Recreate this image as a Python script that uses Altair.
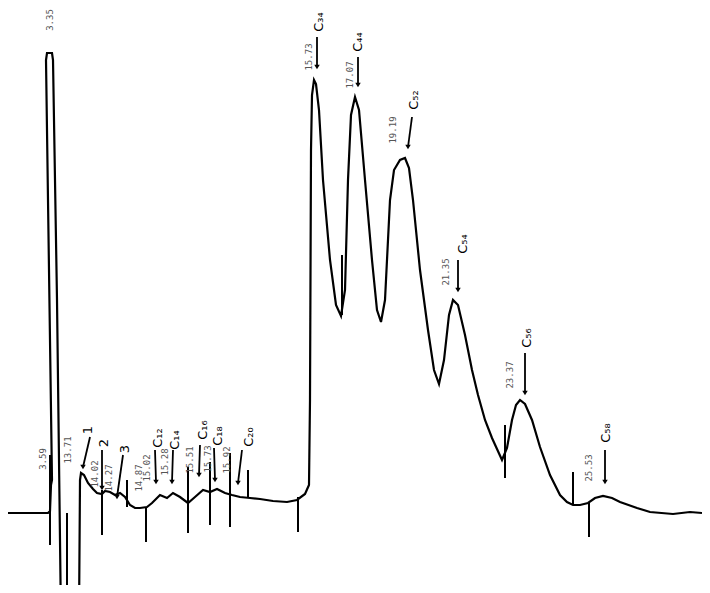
import altair as alt
import pandas as pd

# Chromatogram trace: retention time (min) and detector signal (arbitrary units)
trace_t = [0, 1.6, 1.68, 1.72, 1.76, 1.52, 1.56, 1.76, 1.8, 1.96, 2.12, 2.56, 2.84, 2.88, 2.92,
           3.04, 3.2, 3.4, 3.56, 3.76, 3.88, 4.08, 4.28, 4.48, 4.68, 4.88, 5.08, 5.28, 5.56, 5.76,
           6.08, 6.36, 6.6, 6.88, 7.2, 7.48, 7.8, 8.08, 8.36, 8.68, 8.96, 9.28, 9.68, 10.08, 10.6,
           11.16, 11.56, 11.88, 12.04, 12.08, 12.12, 12.16, 12.24, 12.32, 12.44, 12.6, 12.88, 13.12,
           13.32, 13.48, 13.6, 13.72, 13.88, 14.04, 14.28, 14.56, 14.76, 14.92, 15.08, 15.28, 15.44,
           15.68, 15.88, 16.04, 16.2, 16.48, 16.8, 17.04, 17.24, 17.44, 17.64, 17.8, 18.0, 18.28,
           18.56, 18.8, 19.08, 19.36, 19.76, 19.96, 20.16, 20.32, 20.48, 20.68, 20.96, 21.28, 21.68,
           22.08, 22.36, 22.6, 22.88, 23.2, 23.48, 23.8, 24.16, 24.48, 25.16, 25.68, 26.6, 27.28, 27.76]
trace_s = [0, 0, 0.4, 5.6, 6.6, 90.6, 92, 92, 90.6, 42.6, -21.4, -21.4, -21.4, 6.6, 8,
           7.6, 6, 4.8, 4, 3.8, 4.4, 4.2, 3.6, 4, 3.2, 1.6, 1, 1, 1.2, 2,
           3.6, 3, 4, 3.2, 2, 3.2, 4.6, 4.2, 4.8, 4, 3.6, 3.2, 3, 2.8, 2.4,
           2.2, 2.6, 3.8, 5.6, 22.6, 72.6, 83.6, 86.6, 85.8, 80.6, 66.6, 50.6, 41.6,
           39.4, 44.6, 66.6, 79.6, 83.2, 80.6, 66.6, 50.6, 40.6, 38.2, 42.6, 62.6, 68.6,
           70.6, 71, 69, 62.6, 48.6, 36.6, 28.6, 25.8, 30.6, 39.6, 42.6, 41.6, 35.6,
           28.6, 23.6, 18.6, 15, 10.6, 13, 18.6, 21.6, 22.6, 21.8, 18.6, 13.2, 7.6,
           3.6, 2.2, 1.6, 1.6, 2, 3, 3.4, 3, 2.2, 1, 0.2, -0.2, 0.2, 0]

# Integration markers (time, top, bottom)
tick_t = [1.68, 2.36, 3.76, 4.76, 5.52, 7.2, 8.08, 8.88, 9.6, 11.6, 13.36, 19.88, 22.6, 23.24]
tick_top = [11.6, 0, 4.6, 6.6, 1.2, 9.2, 10.2, 12, 8.6, 3.2, 51.6, 17.6, 8.2, 2]
tick_bot = [-6.4, -14.4, -4.4, 1.2, -5.8, -4, -2.4, -2.8, 3, -3.8, 39.6, 7, 1.6, -4.8]

# Peak identification arrows and labels
peak_names = ["1", "2", "3", "C₁₂", "C₁₄", "C₁₆", "C₁₈", "C₂₀", "C₃₄", "C₄₄", "C₅₂", "C₅₄", "C₅₆", "C₅₈"]
arrow_t1 = [3.28, 3.76, 4.6, 5.88, 6.6, 7.68, 8.24, 9.36, 12.36, 14.0, 16.16, 18.0, 20.68, 23.88]
arrow_s1 = [15.2, 12.6, 11.6, 12.6, 12.6, 13.6, 13.0, 12.6, 95.2, 91.2, 79.2, 50.6, 32.0, 12.6]
arrow_t2 = [3.0, 3.76, 4.36, 5.92, 6.56, 7.64, 8.28, 9.2, 12.36, 14.0, 16.0, 18.0, 20.68, 23.88]
arrow_s2 = [9.2, 5.0, 3.2, 6.2, 6.2, 7.6, 6.6, 6.0, 89.2, 85.6, 73.2, 44.6, 24.0, 6.2]
label_t = [3.2, 3.84, 4.68, 6.0, 6.68, 7.8, 8.4, 9.64, 12.44, 14.0, 16.24, 18.2, 20.76, 23.92]
label_s = [16.6, 14.0, 12.8, 15.0, 14.6, 16.6, 15.4, 15.2, 98.2, 94.2, 82.6, 53.8, 35.0, 16.0]

# Retention time printouts
rt_text = ["3.35", "3.59", "13.71", "14.02", "14.27", "14.87", "15.02", "15.28", "15.51",
           "15.73", "15.92", "15.73", "17.07", "19.19", "21.35", "23.37", "25.53"]
rt_t = [1.68, 1.4, 2.4, 3.48, 4.04, 5.24, 5.56, 6.28, 7.28, 8.0, 8.76, 12.04, 13.68, 15.4, 17.52, 20.08, 23.24]
rt_s = [98.6, 10.8, 12.6, 7.8, 7.0, 7.0, 9.0, 10.2, 10.6, 10.8, 10.6, 91.2, 87.6, 76.6, 48.2, 27.6, 9.0]

trace = pd.DataFrame({"t": trace_t, "s": trace_s, "i": list(range(len(trace_t)))})
ticks = pd.DataFrame({"t": tick_t, "top": tick_top, "bot": tick_bot})
arrows = pd.DataFrame({"t1": arrow_t1, "s1": arrow_s1, "t2": arrow_t2, "s2": arrow_s2,
                       "name": peak_names, "lt": label_t, "ls": label_s})
rts = pd.DataFrame({"txt": rt_text, "t": rt_t, "s": rt_s})

xs = alt.Scale(domain=[0, 27.76], nice=False, zero=False)
ys = alt.Scale(domain=[-14.4, 101], nice=False, zero=False)

line = alt.Chart(trace).mark_line(color="black", strokeWidth=2.2, clip=True).encode(
    x=alt.X("t:Q", scale=xs, axis=None),
    y=alt.Y("s:Q", scale=ys, axis=None),
    order="i:Q",
)

tick_marks = alt.Chart(ticks).mark_rule(color="black", strokeWidth=2, clip=True).encode(
    x=alt.X("t:Q", scale=xs, axis=None),
    y=alt.Y("top:Q", scale=ys, axis=None),
    y2="bot:Q",
)

shafts = alt.Chart(arrows).mark_rule(color="black", strokeWidth=1.8).encode(
    x=alt.X("t1:Q", scale=xs, axis=None),
    x2="t2:Q",
    y=alt.Y("s1:Q", scale=ys, axis=None),
    y2="s2:Q",
)

heads = alt.Chart(arrows).mark_point(shape="triangle-down", filled=True, color="black",
                                     size=30, opacity=1).encode(
    x=alt.X("t2:Q", scale=xs, axis=None),
    y=alt.Y("s2:Q", scale=ys, axis=None),
)

names = alt.Chart(arrows).mark_text(angle=270, fontSize=13, font="DejaVu Sans",
                                    color="black").encode(
    x=alt.X("lt:Q", scale=xs, axis=None),
    y=alt.Y("ls:Q", scale=ys, axis=None),
    text="name:N",
)

rt_labels = alt.Chart(rts).mark_text(angle=270, fontSize=9, font="DejaVu Sans Mono",
                                     color="#555555").encode(
    x=alt.X("t:Q", scale=xs, axis=None),
    y=alt.Y("s:Q", scale=ys, axis=None),
    text="txt:N",
)

chart = alt.layer(line, tick_marks, shafts, heads, names, rt_labels).properties(
    width=694, height=577, padding=0,
    autosize=alt.AutoSizeParams(type="fit", contains="padding"),
    background="white",
).configure_view(stroke=None)

chart.save("out.html", embed_options={"renderer": "svg", "actions": False})
